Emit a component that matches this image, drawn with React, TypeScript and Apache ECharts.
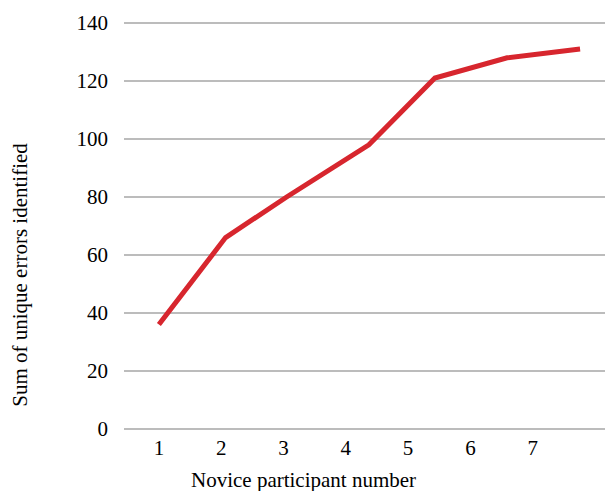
import React, { useEffect, useRef } from "react";
import * as echarts from "echarts";

// x tick labels (participant numbers)
const xTickLabels = [1, 2, 3, 4, 5, 6, 7];
// horizontal position of each vertex along the participant axis
const pointPositions = [1.0, 2.07, 3.05, 4.37, 5.43, 6.59, 7.76];
// cumulative sum of unique errors identified
const errorSums = [36, 66, 80, 98, 121, 128, 131];
const yTicks = [0, 20, 40, 60, 80, 100, 120, 140];

const FONT = "Liberation Serif";

export default function App() {
  const ref = useRef<HTMLDivElement>(null);
  useEffect(() => {
    if (!ref.current) return;
    const chart = echarts.init(ref.current, null, { renderer: "svg" });
    chart.setOption({
      animation: false,
      textStyle: { fontFamily: FONT },
      grid: { left: 124, right: 0, top: 23, bottom: 62, containLabel: false },
      xAxis: {
        type: "value",
        min: 0.44,
        max: 8.16,
        axisLine: { show: false },
        axisTick: { show: false },
        splitLine: { show: false },
        axisLabel: {
          customValues: xTickLabels,
          color: "#000",
          fontFamily: FONT,
          fontSize: 21,
          margin: 8,
        },
      },
      yAxis: {
        type: "value",
        min: yTicks[0],
        max: yTicks[yTicks.length - 1],
        interval: 20,
        axisLine: { show: false },
        axisTick: { show: false },
        splitLine: { lineStyle: { color: "#a6a6a6", width: 1.6 } },
        axisLabel: {
          color: "#000",
          fontFamily: FONT,
          fontSize: 21,
          margin: 16,
        },
      },
      graphic: [
        {
          type: "text",
          left: 191,
          top: 469,
          style: {
            text: "Novice participant number",
            fill: "#000",
            fontFamily: FONT,
            fontSize: 21,
          },
        },
        {
          type: "text",
          x: 20,
          y: 275,
          rotation: Math.PI / 2,
          style: {
            text: "Sum of unique errors identified",
            fill: "#000",
            fontFamily: FONT,
            fontSize: 21,
            align: "center",
            verticalAlign: "middle",
          },
        },
      ],
      series: [
        {
          type: "line",
          data: pointPositions.map((x, i) => [x, errorSums[i]]),
          showSymbol: false,
          symbol: "none",
          lineStyle: { color: "#d7262e", width: 5, cap: "butt", join: "miter" },
        },
      ],
    });
    return () => chart.dispose();
  }, []);
  return (
    <div
      ref={ref}
      style={{ position: "absolute", left: 0, top: 0, width: 605, height: 491 }}
    />
  );
}
